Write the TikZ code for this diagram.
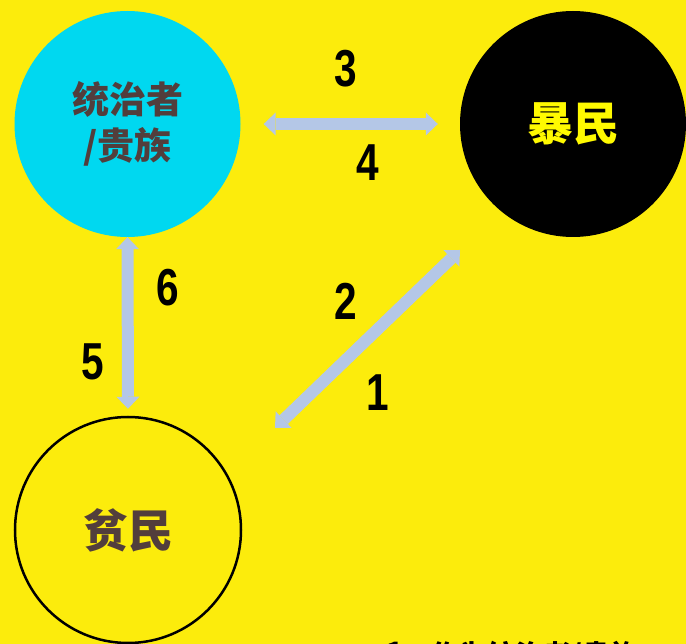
\documentclass[tikz,border=0pt]{standalone}
\usepackage{fontspec}
\usetikzlibrary{arrows.meta}
\newfontfamily\cjk{Noto Sans CJK SC}[BoldFont={Noto Sans CJK SC Black}]
\newfontfamily\numfont{Liberation Sans}[FakeStretch=0.78]
\definecolor{bg}{RGB}{252,236,12}
\definecolor{cyanc}{RGB}{0,216,240}
\definecolor{browntext}{RGB}{82,62,60}
\definecolor{mobtext}{RGB}{255,250,0}
\definecolor{arrowc}{RGB}{180,199,231}
\begin{document}
\begin{tikzpicture}[x=1pt,y=-1pt,
  group/.style={circle, inner sep=0pt, minimum size=226pt, align=center},
  num/.style={font=\numfont\bfseries\fontsize{52}{52}\selectfont, text=black, inner sep=0pt},
  bigarrow/.style={draw=arrowc, line width=12pt,
    {Triangle[width=23pt,length=12pt,line width=0pt]}-{Triangle[width=23pt,length=12pt,line width=0pt]}}
]
\fill[bg] (0,0) rectangle (686,644);
\useasboundingbox (0,0) rectangle (686,644);
\clip (0,0) rectangle (686,644);

% groups
\node[group, fill=cyanc, text=browntext, font=\cjk\bfseries\fontsize{37}{46}\selectfont] (ruler) at (127.5,124) {统治者\\/贵族};
\node[group, fill=black, text=mobtext, font=\cjk\bfseries\fontsize{46}{46}\selectfont] (mob) at (573,124) {暴民};
\node[group, draw=black, line width=2.5pt, text=browntext, font=\cjk\bfseries\fontsize{45}{45}\selectfont] (poor) at (128,530) {贫民};

% connectors
\draw[bigarrow, shorten <=23pt, shorten >=22pt] (ruler.east) -- (mob.west);
\draw[bigarrow, shorten >=7pt] (ruler.south) -- (poor.north);
\coordinate (d1) at (275,428);
\coordinate (d2) at (460,250);
\draw[bigarrow] (d1) -- (d2);

% numbers
\node[num] (n3) at (346,69) {3};
\node[num] (n4) at (368,163) {4};
\node[num] (n6) at (168,288) {6};
\node[num] (n5) at (93,362) {5};
\node[num] (n2) at (346,301) {2};
\node[num] (n1) at (378,393) {1};

% cut-off note at the bottom
\node[anchor=north west, inner sep=0pt, text=black, font=\cjk\bfseries\fontsize{28}{28}\selectfont] (note) at (386,640.5) {\raisebox{2.5pt}{1、}作为统治者/贵族};
\end{tikzpicture}
\end{document}
